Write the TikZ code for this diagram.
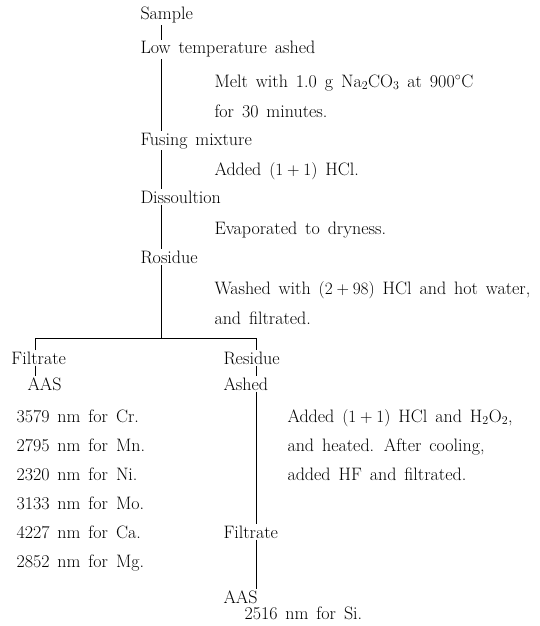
\documentclass[tikz,border=0pt]{standalone}
\newcommand{\diagfont}{\fontsize{18}{21}\selectfont\spaceskip=0.44em plus 0.1em minus 0.05em\relax}
\begin{document}
\begin{tikzpicture}[x=1pt,y=-1pt,
  txt/.style={anchor=base west,inner sep=0pt,outer sep=1.5pt,font=\diagfont},
  conn/.style={draw,line width=0.5pt}]
\useasboundingbox (0,0) rectangle (539,626);
\coordinate (spine) at (161,0);
\coordinate (lspine) at (35,0);
\coordinate (rspine) at (256,0);
% main column
\node[txt] (sample) at (139,20) {Sample};
\node[txt] (low) at (139,54) {Low temperature ashed};
\node[txt] (melt) at (213,87) {Melt with 1.0 g Na$_2$CO$_3$ at 900$^\circ$C};
\node[txt] (melt2) at (213,117) {for 30 minutes.};
\node[txt] (fusing) at (139,145) {Fusing mixture};
\node[txt] (added) at (213,175) {Added $(1+1)$ HCl.};
\node[txt] (diss) at (139,203) {Dissoultion};
\node[txt] (evap) at (213,234) {Evaporated to dryness.};
\node[txt] (ros) at (139,263) {Rosidue};
\node[txt] (wash) at (213,294) {Washed with $(2+98)$ HCl and hot water,};
\node[txt] (wash2) at (213,324) {and filtrated.};
\coordinate (junc) at (161,338);
% left branch
\node[txt] (filt) at (10,364) {Filtrate};
\node[txt] (aasl) at (26,390) {AAS};
\node[txt] (cr) at (15,422) {3579 nm for Cr.};
\node[txt] (mn) at (15,451) {2795 nm for Mn.};
\node[txt] (ni) at (15,480) {2320 nm for Ni.};
\node[txt] (mo) at (15,509) {3133 nm for Mo.};
\node[txt] (ca) at (15,538) {4227 nm for Ca.};
\node[txt] (mg) at (15,567) {2852 nm for Mg.};
% right branch
\node[txt] (res) at (222,364) {Residue};
\node[txt] (ashed) at (222,390) {Ashed};
\node[txt] (h2o2) at (286,422) {Added $(1+1)$ HCl and H$_2$O$_2$,};
\node[txt] (heat) at (286,451) {and heated. After cooling,};
\node[txt] (hf) at (286,480) {added HF and filtrated.};
\node[txt] (filtr) at (222,538) {Filtrate};
\node[txt] (aasr) at (222,603) {AAS};
\node[txt] (si) at (243,619) {2516 nm for Si.};
% connectors
\draw[conn] (sample.south -| spine) -- (low.north -| spine);
\draw[conn] (low.south -| spine) -- (fusing.north -| spine);
\draw[conn] (fusing.south -| spine) -- (diss.north -| spine);
\draw[conn] (diss.south -| spine) -- (ros.north -| spine);
\draw[conn] (ros.south -| spine) -- (junc);
\draw[conn] (filt.north -| lspine) -- (junc -| lspine) -- (junc -| rspine) -- (res.north -| rspine);
\draw[conn] (filt.south -| lspine) -- (aasl.north -| lspine);
\draw[conn] (res.south -| rspine) -- (ashed.north -| rspine);
\draw[conn] (ashed.south -| rspine) -- (filtr.north -| rspine);
\draw[conn] (filtr.south -| rspine) -- (aasr.north -| rspine);
\end{tikzpicture}
\end{document}
